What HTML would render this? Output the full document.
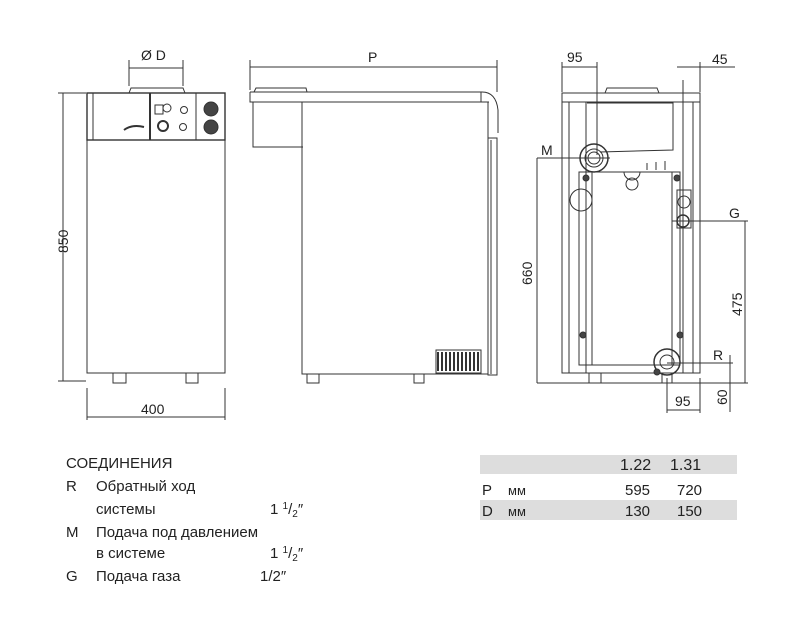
<!DOCTYPE html>
<html><head><meta charset="utf-8"><style>
html,body{margin:0;padding:0;background:#fff;width:800px;height:632px;overflow:hidden}
svg{display:block}
.t{font-family:"Liberation Sans","DejaVu Sans",sans-serif;fill:#222}
</style></head><body>
<svg width="800" height="632" viewBox="0 0 800 632" xmlns="http://www.w3.org/2000/svg">
<g fill="none" stroke="#333" stroke-width="1">
<!-- FRONT VIEW -->
<rect x="87" y="93" width="138" height="280"/>
<rect x="87" y="93" width="138" height="47" fill="#fff" stroke-width="1.4"/>
<line x1="93" y1="93" x2="93" y2="140"/>
<line x1="150" y1="93" x2="150" y2="140" stroke-width="2"/>
<line x1="196" y1="93" x2="196" y2="140"/>
<path d="M129 93 L131 88 L183 88 L185 93"/>
<path d="M124 130 q8 -6 20 -3" stroke-width="2"/>
<rect x="155" y="105" width="8" height="9"/>
<circle cx="167" cy="108" r="4"/>
<circle cx="163" cy="126" r="5" stroke-width="2"/>
<circle cx="184" cy="110" r="3.5"/>
<circle cx="183" cy="127" r="3.5"/>
<circle cx="211" cy="109" r="7" fill="#444"/>
<circle cx="211" cy="127" r="7" fill="#444"/>
<path d="M113 373 v10 h13 v-10 M186 373 v10 h12 v-10"/>
<!-- dims front -->
<line x1="129" y1="60" x2="129" y2="86"/><line x1="183" y1="60" x2="183" y2="86"/>
<line x1="129" y1="68" x2="183" y2="68"/>
<line x1="63" y1="93" x2="63" y2="381"/>
<line x1="58" y1="93" x2="86" y2="93"/><line x1="58" y1="381" x2="86" y2="381"/>
<line x1="87" y1="388" x2="87" y2="420"/><line x1="225" y1="388" x2="225" y2="420"/>
<line x1="87" y1="417" x2="225" y2="417"/>
<!-- SIDE VIEW -->
<line x1="250" y1="60" x2="250" y2="90"/><line x1="497" y1="60" x2="497" y2="92"/>
<line x1="250" y1="67" x2="497" y2="67"/>
<path d="M254 92 L256 88 L306 88 L307 92"/>
<path d="M250 92 H482 Q496 92 498 110 L498 133 M250 92 V102 H481 V92 M481 102 H489"/>
<path d="M253 102 V147 H303"/>
<rect x="302" y="102" width="186" height="272"/>
<rect x="488" y="138" width="9" height="237"/>
<line x1="491" y1="140" x2="491" y2="374"/>
<g stroke-width="2">
<path d="M438 352v19M442 352v19M446 352v19M450 352v19M454 352v19M458 352v19M462 352v19M466 352v19M470 352v19M474 352v19M478 352v19"/>
</g>
<rect x="436" y="350" width="45" height="23"/>
<path d="M307 374 v9 h12 v-9 M414 374 v9 h10 v-9"/>
<!-- RIGHT VIEW -->
<rect x="562" y="93" width="138" height="280"/>
<line x1="562" y1="102" x2="700" y2="102"/>
<line x1="569" y1="102" x2="569" y2="373"/><line x1="693" y1="102" x2="693" y2="373"/>
<line x1="586" y1="102" x2="586" y2="373"/><line x1="683" y1="80" x2="683" y2="373"/>
<path d="M605 93 L607 88 H657 L659 93"/>
<path d="M587 103 H673 V150 L600 152"/>
<path d="M579 172 H680 V365 H579 Z"/>
<line x1="592" y1="172" x2="592" y2="365"/><line x1="672" y1="172" x2="672" y2="365"/>
<circle cx="594" cy="158" r="14" stroke-width="1.5"/>
<circle cx="594" cy="158" r="9"/><circle cx="594" cy="158" r="6"/>
<circle cx="632" cy="184" r="6"/><path d="M624 172 a8 8 0 0 0 16 0"/>
<path d="M647 170v-7M656 170v-8M665 170v-9"/>
<circle cx="586" cy="178" r="3" fill="#444"/><circle cx="677" cy="178" r="3" fill="#444"/>
<circle cx="583" cy="335" r="3" fill="#444"/><circle cx="680" cy="335" r="3" fill="#444"/>
<circle cx="581" cy="200" r="11"/>
<rect x="677" y="190" width="14" height="38"/>
<circle cx="684" cy="202" r="6"/>
<circle cx="683" cy="221" r="6" stroke-width="1.5"/>
<circle cx="667" cy="362" r="13" stroke-width="1.5"/><circle cx="667" cy="362" r="7"/>
<path d="M589 373 v10 h12 v-10 M662 373 v10 h10 v-10"/>
<circle cx="657" cy="372" r="3" fill="#444"/>
<!-- right dims -->
<line x1="562" y1="62" x2="562" y2="92"/><line x1="597" y1="62" x2="597" y2="155"/>
<line x1="562" y1="67" x2="597" y2="67"/>
<line x1="700" y1="62" x2="700" y2="92"/>
<line x1="677" y1="67" x2="735" y2="67"/>
<line x1="537" y1="158" x2="610" y2="158"/>
<line x1="537" y1="158" x2="537" y2="383"/>
<line x1="672" y1="221" x2="748" y2="221"/>
<line x1="745" y1="221" x2="745" y2="383"/>
<line x1="667" y1="363" x2="733" y2="363"/>
<line x1="730" y1="355" x2="730" y2="412"/>
<line x1="537" y1="383" x2="748" y2="383"/>
<line x1="667" y1="378" x2="667" y2="413"/><line x1="700" y1="378" x2="700" y2="413"/>
<line x1="667" y1="410" x2="700" y2="410"/>
</g>
<g class="t" font-size="14">
<text x="141" y="60">Ø D</text>
<text x="141" y="414">400</text>
<text x="0" y="0" transform="translate(68,253) rotate(-90)">850</text>
<text x="368" y="62">P</text>
<text x="567" y="62">95</text>
<text x="712" y="64">45</text>
<text x="541" y="155">M</text>
<text x="729" y="218">G</text>
<text x="713" y="360">R</text>
<text x="675" y="406">95</text>
<text x="0" y="0" transform="translate(532,285) rotate(-90)">660</text>
<text x="0" y="0" transform="translate(742,316) rotate(-90)">475</text>
<text x="0" y="0" transform="translate(727,405) rotate(-90)">60</text>
</g>
<!-- table -->
<rect x="480" y="455" width="257" height="19" fill="#ddd"/>
<rect x="480" y="500" width="257" height="20" fill="#ddd"/>
<g class="t" font-size="15">
<text x="620" y="470" font-size="16">1.22</text>
<text x="670" y="470" font-size="16">1.31</text>
<text x="482" y="495">P</text><text x="508" y="495" font-size="13">мм</text>
<text x="625" y="495">595</text><text x="677" y="495">720</text>
<text x="482" y="516">D</text><text x="508" y="516" font-size="13">мм</text>
<text x="625" y="516">130</text><text x="677" y="516">150</text>
<text x="66" y="468">СОЕДИНЕНИЯ</text>
<text x="66" y="491">R</text><text x="96" y="491">Обратный ход</text>
<text x="96" y="514">системы</text><text x="270" y="514">1 <tspan font-size="10" dy="-5">1</tspan><tspan dy="5">/</tspan><tspan font-size="10" dy="3">2</tspan><tspan dy="-3">″</tspan></text>
<text x="66" y="537">M</text><text x="96" y="537">Подача под давлением</text>
<text x="96" y="558">в системе</text><text x="270" y="558">1 <tspan font-size="10" dy="-5">1</tspan><tspan dy="5">/</tspan><tspan font-size="10" dy="3">2</tspan><tspan dy="-3">″</tspan></text>
<text x="66" y="581">G</text><text x="96" y="581">Подача газа</text><text x="260" y="581">1/2″</text>
</g>
</svg>
</body></html>
